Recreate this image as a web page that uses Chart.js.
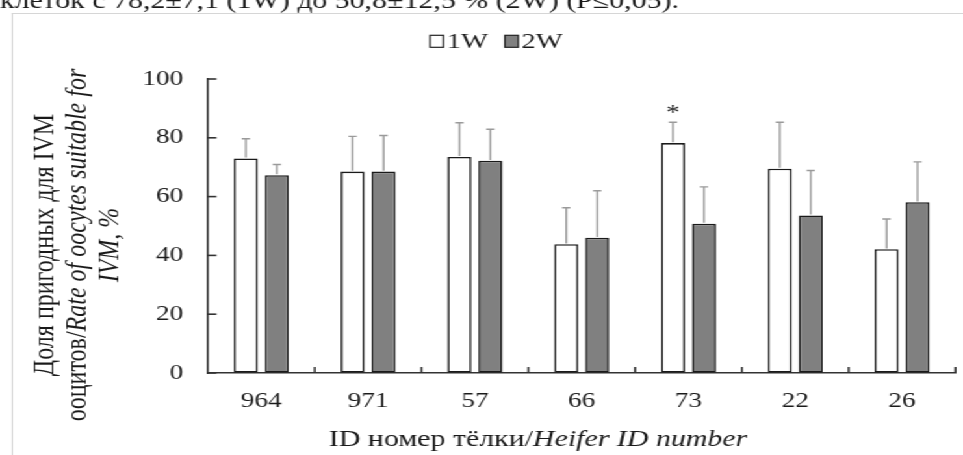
<!DOCTYPE html>
<html><head><meta charset="utf-8">
<script src="https://cdn.jsdelivr.net/npm/chart.js@4"></script>
<style>
html,body{margin:0;padding:0;background:#fff;overflow:hidden;width:963px;height:455px}
#wrap{position:absolute;left:0;top:0;width:741px;height:455px;transform:scaleX(1.2996);transform-origin:0 0}
#frame{position:absolute;left:9px;top:13px;width:800px;height:500px;border-left:1.5px solid #d6d6d6;border-top:1.5px solid #d6d6d6}
canvas{position:absolute;left:0;top:0}
.pre{position:absolute;left:-999px;top:-999px;font-family:'Liberation Serif';font-size:20px}
</style></head><body>
<span class="pre">Aa Дд 0</span><span class="pre" style="font-style:italic">Aa Дд 0</span>
<div id="wrap"><div id="frame"></div><canvas id="c" width="741" height="455"></canvas></div>
<script>
const categories = ['964','971','57','66','73','22','26'];
const seriesNames = ['1W','2W'];
const values1W = [73.0, 68.5, 73.5, 43.8, 78.2, 69.5, 42.1];
const values2W = [67.3, 68.5, 72.2, 46.0, 50.8, 53.6, 58.1];
const errors1W = [6.7, 12.0, 11.6, 12.4, 7.1, 15.8, 10.3];
const errors2W = [3.6, 12.3, 10.7, 16.0, 12.5, 15.3, 13.7];
const marks1W = ['', '', '', '', '*', '', ''];
const marks2W = ['', '', '', '', '', '', ''];
const yTicks = [0, 20, 40, 60, 80, 100];
const yTitleLines = [
  [['Доля пригодных для IVM', false]],
  [['ооцитов/', false], ['Rate of oocytes suitable for', true]],
  [['IVM, %', true]]
];
const xTitleRuns = [['ID номер тёлки/', false], ['Heifer ID number', true]];
const topText = 'клеток с 78,2±7,1 (1W) до 50,8±12,5 % (2W) (P≤0,05).';

const FAMILY = "'Liberation Serif', serif";
function font(size, italic){ return (italic ? 'italic ' : '') + size + 'px ' + FAMILY; }
function runsWidth(ctx, runs, size){ let w = 0; runs.forEach(([t, it]) => { ctx.font = font(size, it); w += ctx.measureText(t).width; }); return w; }
function drawRuns(ctx, runs, size, x, y){ runs.forEach(([t, it]) => { ctx.font = font(size, it); ctx.fillText(t, x, y); x += ctx.measureText(t).width; }); }

const decor = {
  id: 'decor',
  afterDatasetsDraw(chart){
    const ctx = chart.ctx, ys = chart.scales.y;
    ctx.save();
    chart.data.datasets.forEach((ds, di) => {
      const meta = chart.getDatasetMeta(di);
      meta.data.forEach((bar, i) => {
        const top = ys.getPixelForValue(ds.data[i] + ds.errors[i]);
        ctx.strokeStyle = '#9a9a9a'; ctx.lineWidth = 1.4;
        ctx.beginPath();
        ctx.moveTo(bar.x, bar.y - 0.8); ctx.lineTo(bar.x, top);
        ctx.moveTo(bar.x - 3.2, top); ctx.lineTo(bar.x + 3.2, top);
        ctx.stroke();
        if (ds.marks[i]) {
          ctx.fillStyle = '#222'; ctx.font = font(21, false);
          ctx.textAlign = 'center'; ctx.textBaseline = 'alphabetic';
          ctx.fillText(ds.marks[i], bar.x, top - 3);
        }
      });
    });
    ctx.restore();
  },
  afterDraw(chart){
    const ctx = chart.ctx, xs = chart.scales.x, ys = chart.scales.y;
    ctx.save();
    ctx.strokeStyle = '#333'; ctx.lineWidth = 1.6;
    ys.ticks.forEach(t => {
      const y = ys.getPixelForValue(t.value);
      ctx.beginPath(); ctx.moveTo(ys.right, y); ctx.lineTo(ys.right + 6.5, y); ctx.stroke();
    });
    const step = xs.getPixelForValue(1) - xs.getPixelForValue(0);
    for (let i = 1; i <= categories.length; i++) {
      const x = xs.getPixelForValue(i) - step / 2;
      ctx.beginPath(); ctx.moveTo(x, xs.top); ctx.lineTo(x, xs.top - 6); ctx.stroke();
    }
    ctx.fillStyle = '#1a1a1a';
    ctx.textAlign = 'left'; ctx.textBaseline = 'alphabetic';
    ctx.font = font(23, false);
    ctx.fillText(topText, 0, 8);
    const items = chart.data.datasets.map(ds => ({ label: ds.label, fill: ds.backgroundColor }));
    ctx.font = font(22, false);
    const box = 10.3, gap = 2.5, sep = 13;
    let total = 0;
    items.forEach((it, k) => { total += box + gap + ctx.measureText(it.label).width + (k ? sep : 0); });
    let x = 382 - total / 2;
    items.forEach(it => {
      ctx.fillStyle = it.fill; ctx.fillRect(x, 35.3, box, 12);
      ctx.strokeStyle = '#222'; ctx.lineWidth = 1.2; ctx.strokeRect(x, 35.3, box, 12);
      ctx.fillStyle = '#1a1a1a';
      ctx.fillText(it.label, x + box + gap, 47.5);
      x += box + gap + ctx.measureText(it.label).width + sep;
    });
    const lineX = [34.6, 60, 84.6];
    yTitleLines.forEach((runs, k) => {
      ctx.save();
      ctx.translate(lineX[k], 245);
      ctx.rotate(-Math.PI / 2);
      ctx.textBaseline = 'middle';
      const w = runsWidth(ctx, runs, 24);
      drawRuns(ctx, runs, 24, -w / 2, 0);
      ctx.restore();
    });
    ctx.textBaseline = 'alphabetic';
    const wx = runsWidth(ctx, xTitleRuns, 23);
    drawRuns(ctx, xTitleRuns, 23, 414 - wx / 2, 446);
    ctx.restore();
  }
};

function build(){
  const tickFont = { family: FAMILY, size: 21 };
  new Chart(document.getElementById('c'), {
    type: 'bar',
    data: {
      labels: categories,
      datasets: [
        { label: seriesNames[0], data: values1W, errors: errors1W, marks: marks1W,
          backgroundColor: '#ffffff', borderColor: '#1a1a1a', borderWidth: 1.6, borderSkipped: false,
          categoryPercentage: 0.58, barPercentage: 0.774 },
        { label: seriesNames[1], data: values2W, errors: errors2W, marks: marks2W,
          backgroundColor: '#808080', borderColor: '#1a1a1a', borderWidth: 1.6, borderSkipped: false,
          categoryPercentage: 0.58, barPercentage: 0.774 }
      ]
    },
    options: {
      responsive: false, animation: false, devicePixelRatio: 1,
      layout: { padding: { left: 0, right: 5.8, top: 79, bottom: 0 } },
      plugins: { legend: { display: false }, tooltip: { enabled: false } },
      scales: {
        x: {
          offset: true,
          grid: { display: true, drawOnChartArea: false, drawTicks: false },
          border: { display: true, color: '#333', width: 1.6 },
          ticks: { font: tickFont, color: '#1a1a1a', padding: 16, maxRotation: 0, autoSkip: false },
          afterFit(s){ s.height = 82; }
        },
        y: {
          min: 0, max: 100,
          afterBuildTicks(s){ s.ticks = yTicks.map(v => ({ value: v })); },
          grid: { display: true, drawOnChartArea: false, drawTicks: false },
          border: { display: true, color: '#333', width: 1.6 },
          ticks: { font: tickFont, color: '#1a1a1a', padding: 19 },
          afterFit(s){ s.width = 160; }
        }
      }
    },
    plugins: [decor]
  });
}
const loads = document.fonts ? Promise.all([
  document.fonts.load("21px 'Liberation Serif'", 'Aa Дд 0'),
  document.fonts.load("italic 21px 'Liberation Serif'", 'Aa Дд 0')
]).catch(() => {}) : Promise.resolve();
loads.then(build, build);
</script>
</body></html>
